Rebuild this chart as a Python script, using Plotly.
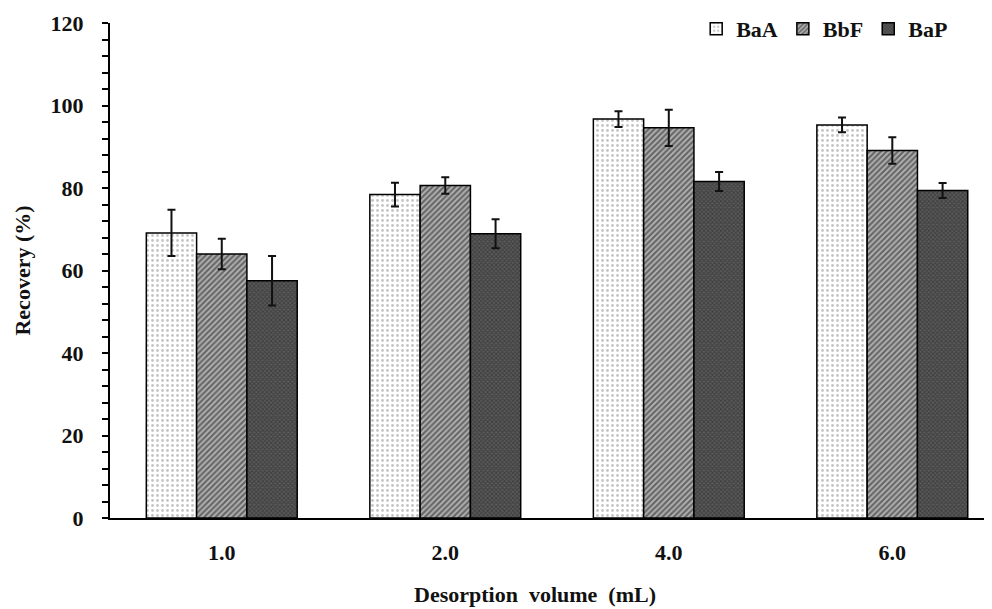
import plotly.graph_objects as go

categories = ["1.0", "2.0", "4.0", "6.0"]
series_names = ["BaA", "BbF", "BaP"]
baa = [69.1, 78.4, 96.7, 95.3]
baa_err = [5.6, 2.9, 1.9, 1.8]
bbf = [64.0, 80.6, 94.6, 89.1]
bbf_err = [3.7, 2.0, 4.4, 3.2]
bap = [57.5, 68.9, 81.6, 79.4]
bap_err = [6.0, 3.5, 2.3, 1.8]
y_ticks = [0, 20, 40, 60, 80, 100, 120]
x_title = "Desorption\u00a0\u00a0volume\u00a0\u00a0(mL)"
y_title = "Recovery (%)"

font_family = "Liberation Serif, Times New Roman, serif"
txt = dict(family=font_family, size=22, color="#111111", weight="bold")

patterns = [
    dict(shape=".", bgcolor="#ffffff", fgcolor="#8a8a8a", size=5, solidity=0.25),
    dict(shape="/", bgcolor="#b5b5b5", fgcolor="#1a1a1a", size=4, solidity=0.55),
    dict(shape="x", bgcolor="#5a5a5a", fgcolor="#222222", size=3, solidity=0.5),
]

fig = go.Figure()
for name, vals, errs, pat in zip(series_names, [baa, bbf, bap], [baa_err, bbf_err, bap_err], patterns):
    fig.add_trace(go.Bar(
        x=categories, y=vals, name=name,
        marker=dict(color=pat["bgcolor"], pattern=pat, line=dict(color="#000000", width=1.5)),
        error_y=dict(type="data", array=errs, visible=True, color="#111111", thickness=2, width=4),
    ))

fig.add_annotation(text=x_title, xref="paper", yref="paper", x=0.482, y=-0.155,
                   xanchor="center", yanchor="middle", showarrow=False, font=txt)

fig.update_layout(
    width=984, height=601,
    margin=dict(l=102, r=0, t=14, b=91),
    paper_bgcolor="white", plot_bgcolor="white",
    barmode="group", bargap=0.325, bargroupgap=0,
    font=dict(family=font_family, size=22, color="#111111"),
    showlegend=True,
    legend=dict(orientation="h", x=0.956, xanchor="right", y=0.988, yanchor="middle",
                font=txt, bgcolor="rgba(0,0,0,0)", itemwidth=30, traceorder="normal"),
    xaxis=dict(
        range=[-0.5, 3.446], showline=True, linecolor="#000000", linewidth=2,
        ticks="", showgrid=False, zeroline=False, automargin=False,
        tickfont=txt, ticklabelstandoff=14,
    ),
    yaxis=dict(
        range=[0, 120], tickvals=y_ticks, showline=True, linecolor="#000000", linewidth=2,
        ticks="outside", ticklen=6, tickwidth=2, tickcolor="#000000",
        minor=dict(dtick=4, ticks="outside", ticklen=6, tickwidth=1.5, tickcolor="#000000"),
        showgrid=False, zeroline=False, automargin=False,
        tickfont=txt, ticklabelstandoff=14,
        title=dict(text=y_title, standoff=14, font=txt),
    ),
)

fig.write_html("out.html")
